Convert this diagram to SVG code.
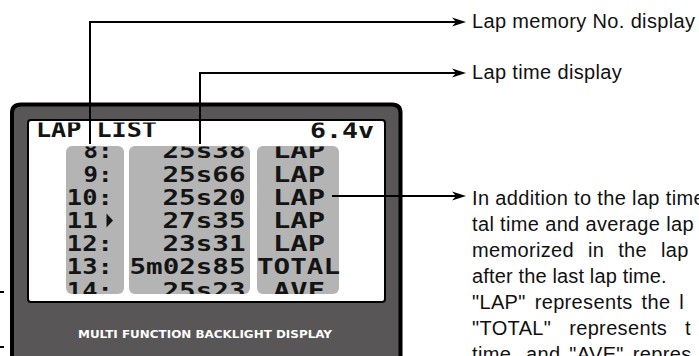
<svg xmlns="http://www.w3.org/2000/svg" width="699" height="356" viewBox="0 0 699 356">
<style>
.lcd{font-family:"DejaVu Sans Mono",monospace;font-weight:bold;font-size:21px;fill:#141414}
.lbl{font-family:"Liberation Sans",Arial,sans-serif;font-size:20px;letter-spacing:0.35px;fill:#111}
.conn{fill:none;stroke:#000;stroke-width:2}
.col{fill:#b4b4b4}
</style>
<defs>
<marker id="arr" viewBox="0 0 14 10" markerWidth="14" markerHeight="10" markerUnits="userSpaceOnUse" refX="8" refY="5" orient="auto">
<path d="M0,0.5 L14,5 L0,9.5 L4,5 Z" fill="#000"/>
</marker>
<clipPath id="rows"><rect x="28" y="146.5" width="357" height="147.5"/></clipPath>
<clipPath id="hdr"><rect x="28" y="122.5" width="357" height="23"/></clipPath>
</defs>

<g id="device">
<path d="M12,360 V113 Q12,104.5 21,104.5 H392 Q400.5,104.5 400.5,113 V360" fill="#585656" stroke="#000" stroke-width="4"/>
<rect x="28" y="120" width="357" height="182" rx="3" fill="#fff" stroke="#000" stroke-width="2"/>
<text x="205" y="337.5" text-anchor="middle" font-family="DejaVu Sans,sans-serif" font-weight="bold" font-size="10.5" fill="#fff" textLength="254" lengthAdjust="spacingAndGlyphs">MULTI FUNCTION BACKLIGHT DISPLAY</text>
<rect x="0" y="291" width="4" height="2" fill="#000"/>
<rect x="0" y="346" width="4" height="2" fill="#000"/>
</g>

<g id="screen-header" clip-path="url(#hdr)">
<text class="lcd" x="36" y="137" textLength="121" lengthAdjust="spacingAndGlyphs">LAP LIST</text>
<text class="lcd" x="310" y="137.5" textLength="64" lengthAdjust="spacingAndGlyphs">6.4v</text>
</g>

<g id="memory-column">
<rect class="col" x="66" y="146" width="58" height="148" rx="6"/>
<g clip-path="url(#rows)">
<text class="lcd" x="83.5" y="158" textLength="29" lengthAdjust="spacingAndGlyphs">8:</text>
<text class="lcd" x="83.5" y="181.5" textLength="29" lengthAdjust="spacingAndGlyphs">9:</text>
<text class="lcd" x="66.8" y="204.5" textLength="46" lengthAdjust="spacingAndGlyphs">10:</text>
<text class="lcd" x="66.8" y="227.5" textLength="31" lengthAdjust="spacingAndGlyphs">11</text>
<polygon points="106.5,213.5 113,220.5 106.5,227.5" fill="#141414"/>
<text class="lcd" x="66.8" y="251" textLength="46" lengthAdjust="spacingAndGlyphs">12:</text>
<text class="lcd" x="66.8" y="274" textLength="46" lengthAdjust="spacingAndGlyphs">13:</text>
<text class="lcd" x="66.8" y="297.5" textLength="46" lengthAdjust="spacingAndGlyphs">14:</text>
</g>
</g>

<g id="time-column">
<rect class="col" x="129" y="146" width="121" height="148" rx="6"/>
<g clip-path="url(#rows)">
<text class="lcd" x="162.5" y="158" textLength="83" lengthAdjust="spacingAndGlyphs">25s38</text>
<text class="lcd" x="162.5" y="181.5" textLength="83" lengthAdjust="spacingAndGlyphs">25s66</text>
<text class="lcd" x="162.5" y="204.5" textLength="83" lengthAdjust="spacingAndGlyphs">25s20</text>
<text class="lcd" x="162.5" y="227.5" textLength="83" lengthAdjust="spacingAndGlyphs">27s35</text>
<text class="lcd" x="162.5" y="251" textLength="83" lengthAdjust="spacingAndGlyphs">23s31</text>
<text class="lcd" x="129.5" y="274" textLength="116" lengthAdjust="spacingAndGlyphs">5m02s85</text>
<text class="lcd" x="162.5" y="297.5" textLength="83" lengthAdjust="spacingAndGlyphs">25s23</text>
</g>
</g>

<g id="type-column">
<rect class="col" x="257" y="146" width="82" height="148" rx="6"/>
<g clip-path="url(#rows)">
<text class="lcd" x="273" y="158" textLength="52" lengthAdjust="spacingAndGlyphs">LAP</text>
<text class="lcd" x="273" y="181.5" textLength="52" lengthAdjust="spacingAndGlyphs">LAP</text>
<text class="lcd" x="273" y="204.5" textLength="52" lengthAdjust="spacingAndGlyphs">LAP</text>
<text class="lcd" x="273" y="227.5" textLength="52" lengthAdjust="spacingAndGlyphs">LAP</text>
<text class="lcd" x="273" y="251" textLength="52" lengthAdjust="spacingAndGlyphs">LAP</text>
<text class="lcd" x="257" y="274" textLength="83" lengthAdjust="spacingAndGlyphs">TOTAL</text>
<text class="lcd" x="273" y="297.5" textLength="52" lengthAdjust="spacingAndGlyphs">AVE</text>
</g>
</g>

<g id="connectors">
<polyline class="conn" points="90,144 90,22 460,22" marker-end="url(#arr)"/>
<polyline class="conn" points="200,144 200,73 460,73" marker-end="url(#arr)"/>
<polyline class="conn" points="332,196 460,196" marker-end="url(#arr)"/>
</g>

<g id="label-memory">
<text class="lbl" x="472" y="28">Lap memory No. display</text>
</g>
<g id="label-time">
<text class="lbl" x="472" y="79">Lap time display</text>
</g>
<g id="label-type">
<text class="lbl" x="472" y="205">In addition to the lap time</text>
<text class="lbl" x="472" y="231">tal time and average lap</text>
<text class="lbl" x="472" y="257" word-spacing="8">memorized in the lap</text>
<text class="lbl" x="472" y="283" style="letter-spacing:0.15px">after the last lap time.</text>
<text class="lbl" x="472" y="309" word-spacing="3">"LAP" represents the l</text>
<text class="lbl" x="472" y="335" word-spacing="12">"TOTAL" represents t</text>
<text class="lbl" x="472" y="361" word-spacing="3">time, and "AVE" repres</text>
</g>
</svg>
